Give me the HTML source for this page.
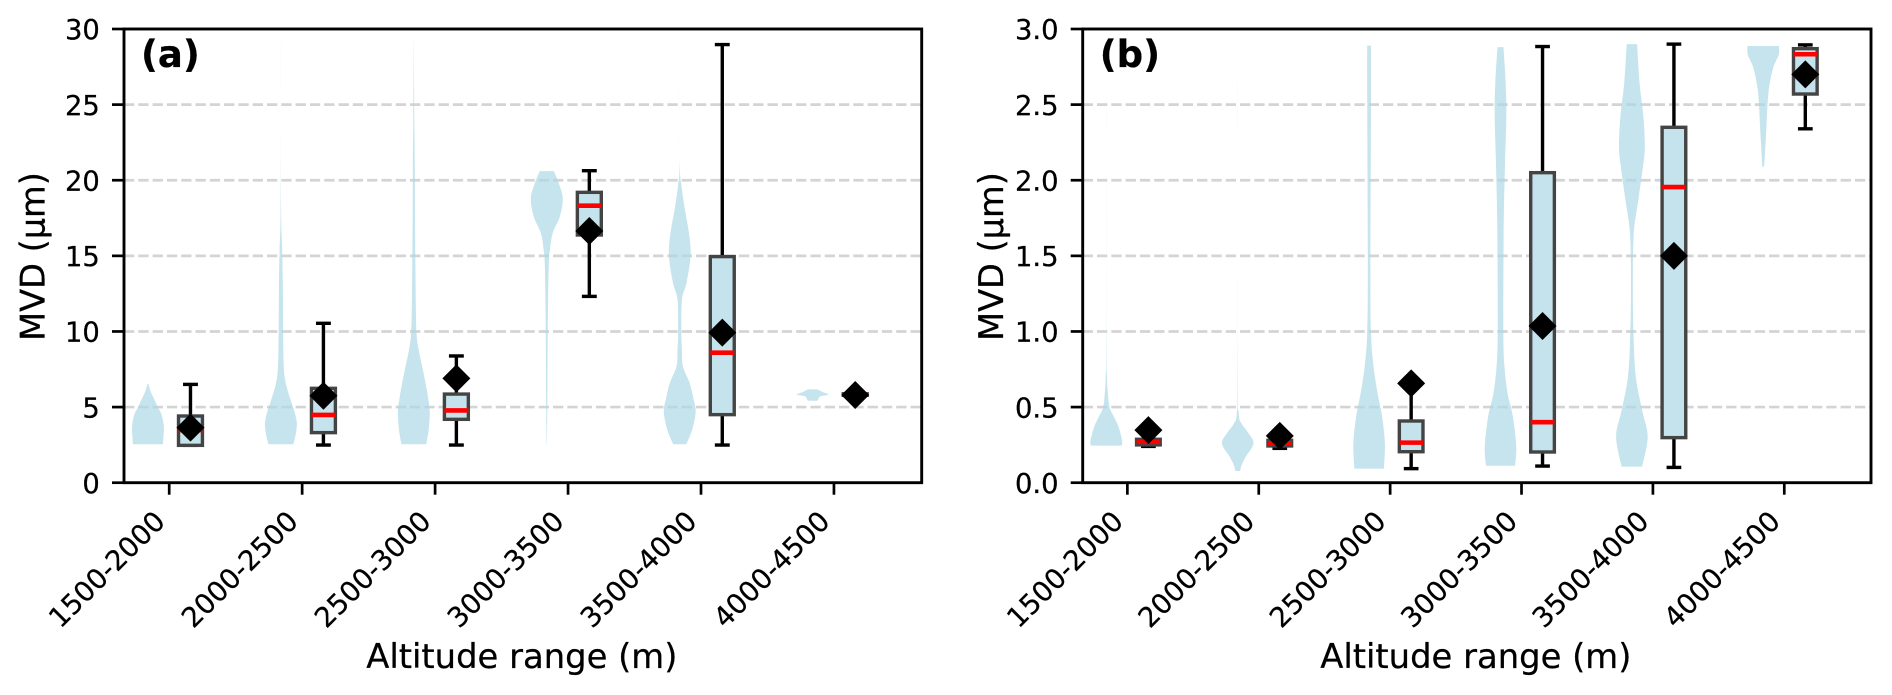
<!DOCTYPE html>
<html lang="en">
<head>
<meta charset="utf-8">
<title>MVD by altitude range</title>
<style>
html,body{margin:0;padding:0;background:#fff;width:1892px;height:695px;overflow:hidden}
svg{display:block;font-family:"DejaVu Sans","Liberation Sans",sans-serif}
svg text{stroke:#000;stroke-width:0.25px}
</style>
</head>
<body>
<svg id="figure" xmlns="http://www.w3.org/2000/svg" width="1892" height="695" viewBox="0 0 1892 695"></svg>
<script>
const categories = ["1500-2000","2000-2500","2500-3000","3000-3500","3500-4000","4000-4500"];

const aYTicks = [0,5,10,15,20,25,30];
const aYTickLabels = ["0","5","10","15","20","25","30"];
const aViolinValues = [
  [2.54,3.0,3.6,4.2,4.6,5.0,5.5,6.0,6.53],
  [2.54,3.2,3.93,4.7,5.5,6.6,7.7,10,13.2,15.4,17.6,23,29.8],
  [2.54,3.5,4.7,5.7,6.6,7.7,8.8,9.9,12.1,16.5,20.9,24.2,29.8],
  [2.54,5.5,9.9,14.3,15.4,16.5,17.6,18.8,19.8,20.6],
  [2.54,3.5,4.7,5.6,6.6,7.7,8.8,9.9,12.1,13.2,15,16.5,18.2,19.7,20.9,25,29.8],
  [5.42,5.62,5.72,5.83,6.0,6.17]
];
const aViolinDensity = [
  [0.94,0.97,1,0.93,0.82,0.62,0.4,0.18,0.03],
  [0.78,0.93,1,0.85,0.6,0.3,0.18,0.14,0.12,0.08,0.02,0.001,0],
  [0.78,0.93,1,0.88,0.73,0.52,0.3,0.17,0.12,0.08,0.06,0.03,0],
  [0.01,0.04,0.06,0.12,0.2,0.37,0.82,1,0.75,0.44],
  [0.41,0.78,1,0.85,0.62,0.2,0.14,0.1,0.14,0.42,0.68,0.58,0.3,0.1,0.008,0.001,0],
  [0.3,0.4,0.5,1,0.62,0.3]
];
const aWhiskerLow = [2.47,2.49,2.49,12.32,2.49,5.78];
const aQ1 = [2.47,3.31,4.19,16.38,4.5,5.78];
const aMedian = [3.48,4.48,4.78,18.32,8.6,5.83];
const aQ3 = [4.41,6.24,5.86,19.2,14.95,5.88];
const aWhiskerHigh = [6.5,10.54,8.38,20.63,28.97,5.88];
const aMean = [3.64,5.75,6.9,16.64,9.92,5.8];

const bYTicks = [0,0.5,1,1.5,2,2.5,3];
const bYTickLabels = ["0.0","0.5","1.0","1.5","2.0","2.5","3.0"];
const bViolinValues = [
  [0.245,0.28,0.37,0.44,0.5,0.59,0.7,0.99,2.71],
  [0.077,0.117,0.17,0.26,0.337,0.39,0.46,0.77,2.9],
  [0.093,0.26,0.44,0.59,0.77,0.99,1.43,2.53,2.89],
  [0.112,0.238,0.44,0.59,0.77,0.99,1.65,2.09,2.42,2.64,2.88],
  [0.106,0.304,0.48,0.7,0.99,1.32,1.65,1.87,2.09,2.22,2.42,2.64,2.9],
  [2.09,2.31,2.53,2.64,2.75,2.83,2.888]
];
const bViolinDensity = [
  [0.98,1,0.77,0.46,0.2,0.1,0.04,0.006,0],
  [0.15,0.25,0.5,1,0.62,0.25,0.06,0.008,0],
  [0.94,1,0.82,0.54,0.28,0.12,0.08,0.12,0.12],
  [0.92,1,0.78,0.45,0.25,0.18,0.2,0.28,0.37,0.33,0.19],
  [0.65,1,0.65,0.25,0.1,0.06,0.12,0.41,0.7,0.82,0.73,0.49,0.33],
  [0.06,0.18,0.29,0.41,0.65,0.98,1]
];
const bWhiskerLow = [0.24,0.227,0.093,0.11,0.101,2.34];
const bQ1 = [0.25,0.243,0.205,0.203,0.298,2.57];
const bMedian = [0.27,0.26,0.265,0.40,1.955,2.833];
const bQ3 = [0.287,0.28,0.408,2.05,2.35,2.87];
const bWhiskerHigh = [0.287,0.29,0.63,2.884,2.9,2.895];
const bMean = [0.348,0.31,0.657,1.036,1.50,2.70];

const SVGNS = "http://www.w3.org/2000/svg";
const figure = document.getElementById("figure");

function mk(tag, attrs, parent) {
  const el = document.createElementNS(SVGNS, tag);
  for (const k in attrs) el.setAttribute(k, attrs[k]);
  parent.appendChild(el);
  return el;
}

function violinPath(xs, ys, cx, sx, sy, maxHalf) {
  const right = ys.map((v, i) => [sx(cx) + xs[i] * maxHalf, sy(v)]);
  const left = ys.map((v, i) => [sx(cx) - xs[i] * maxHalf, sy(v)]).reverse();
  function seg(pts) {
    let s = "";
    for (let i = 0; i < pts.length - 1; i++) {
      const p0 = pts[Math.max(0, i - 1)], p1 = pts[i], p2 = pts[i + 1], p3 = pts[Math.min(pts.length - 1, i + 2)];
      const c1x = p1[0] + (p2[0] - p0[0]) / 6, c1y = p1[1] + (p2[1] - p0[1]) / 6;
      const c2x = p2[0] - (p3[0] - p1[0]) / 6, c2y = p2[1] - (p3[1] - p1[1]) / 6;
      s += "C" + c1x.toFixed(2) + " " + c1y.toFixed(2) + " " + c2x.toFixed(2) + " " + c2y.toFixed(2) + " " + p2[0].toFixed(2) + " " + p2[1].toFixed(2);
    }
    return s;
  }
  return "M" + right[0][0].toFixed(2) + " " + right[0][1].toFixed(2) + seg(right) +
         "L" + left[0][0].toFixed(2) + " " + left[0][1].toFixed(2) + seg(left) + "Z";
}

function drawPanel(p) {
  const T = 29, B = 482.7;
  const sx = v => p.left + (v + 0.34) / 6 * (p.right - p.left);
  const sy = v => B - v / p.yMax * (B - T);
  const unit = (p.right - p.left) / 6;

  const panel = mk("g", {}, figure);
  
  

  // grid
  p.yTicks.forEach((t, i) => {
    if (t === 0 || t === p.yMax) return;
    const g = mk("line", {x1: p.left, x2: p.right, y1: sy(t), y2: sy(t), stroke: "#d4d4d4", "stroke-width": 2.7, "stroke-dasharray": "10.3 4"}, panel);
    
    
  });

  // violins
  categories.forEach((c, i) => {
    const v = mk("path", {d: violinPath(p.density[i], p.values[i], i - 0.16, sx, sy, unit * 0.12), fill: "#add8e6", "fill-opacity": 0.7}, panel);
    
    
  });

  // boxes
  categories.forEach((c, i) => {
    const x = sx(i + 0.16), hw = unit * 0.09, cap = unit * 0.056;
    const g = mk("g", {}, panel);
    
    
    mk("line", {x1: x, x2: x, y1: sy(p.q3[i]), y2: sy(p.high[i]), stroke: "#000", "stroke-width": 3.4}, g);
    mk("line", {x1: x, x2: x, y1: sy(p.q1[i]), y2: sy(p.low[i]), stroke: "#000", "stroke-width": 3.4}, g);
    mk("line", {x1: x - cap, x2: x + cap, y1: sy(p.high[i]), y2: sy(p.high[i]), stroke: "#000", "stroke-width": 3.4}, g);
    mk("line", {x1: x - cap, x2: x + cap, y1: sy(p.low[i]), y2: sy(p.low[i]), stroke: "#000", "stroke-width": 3.4}, g);
    mk("rect", {x: x - hw, y: sy(p.q3[i]), width: 2 * hw, height: Math.max(0.5, sy(p.q1[i]) - sy(p.q3[i])), fill: "#c5e3ec", stroke: "#444", "stroke-width": 3.4}, g);
    mk("line", {x1: x - hw, x2: x + hw, y1: sy(p.med[i]), y2: sy(p.med[i]), stroke: "#ff0000", "stroke-width": 4.6}, g);
    const mx = x, my = sy(p.mean[i]), d = 14;
    const pts = [[mx, my - d], [mx + d, my], [mx, my + d], [mx - d, my]].map(q => q.join(",")).join(" ");
    const diamond = mk("polygon", {points: pts, fill: "#000"}, g);
    
    
  });

  // frame
  const frame = mk("rect", {x: p.left, y: T, width: p.right - p.left, height: B - T, fill: "none", stroke: "#000", "stroke-width": 2.9}, panel);
  
  

  // y ticks
  p.yTicks.forEach((t, i) => {
    const tick = mk("line", {x1: p.left - 12, x2: p.left, y1: sy(t), y2: sy(t), stroke: "#000", "stroke-width": 2.7}, panel);
    
    
    const lab = mk("text", {x: p.left - 24.2, y: sy(t) + 10.2, "text-anchor": "end", "font-size": 27.4, fill: "#000"}, panel);
    lab.textContent = p.yLabels[i];
    
    
  });

  // x ticks
  categories.forEach((c, i) => {
    const x = sx(i);
    const tick = mk("line", {x1: x, x2: x, y1: B, y2: B + 12, stroke: "#000", "stroke-width": 2.7}, panel);
    
    
    const lx = x - 55.7, ly = B + 93.4;
    const lab = mk("text", {x: lx, y: ly, "text-anchor": "middle", "font-size": 27.6, fill: "#000", transform: "rotate(-45 " + lx + " " + ly + ")"}, panel);
    lab.textContent = c;
    
    
  });

  // axis titles
  const xt = mk("text", {x: (p.left + p.right) / 2 - 1, y: 668, "text-anchor": "middle", "font-size": 33.8, fill: "#000"}, panel);
  xt.textContent = "Altitude range (m)";
  
  
  const yx = p.left - 79.5, yy = 256.5;
  const yt = mk("text", {x: yx, y: yy, "text-anchor": "middle", "font-size": 33.6, fill: "#000", transform: "rotate(-90 " + yx + " " + yy + ")"}, panel);
  yt.textContent = "MVD (\u00B5m)";
  
  

  // panel letter
  const letter = mk("text", {x: p.left + 17, y: 67, "font-size": 37, "font-weight": "bold", fill: "#000"}, panel);
  letter.textContent = p.letter;
  
  
}

drawPanel({name: "panel-a", letter: "(a)", left: 124, right: 921.7, yMax: 30, yTicks: aYTicks, yLabels: aYTickLabels,
  values: aViolinValues, density: aViolinDensity, low: aWhiskerLow, q1: aQ1, med: aMedian, q3: aQ3, high: aWhiskerHigh, mean: aMean});
drawPanel({name: "panel-b", letter: "(b)", left: 1082.7, right: 1871, yMax: 3, yTicks: bYTicks, yLabels: bYTickLabels,
  values: bViolinValues, density: bViolinDensity, low: bWhiskerLow, q1: bQ1, med: bMedian, q3: bQ3, high: bWhiskerHigh, mean: bMean});
</script>
</body>
</html>
